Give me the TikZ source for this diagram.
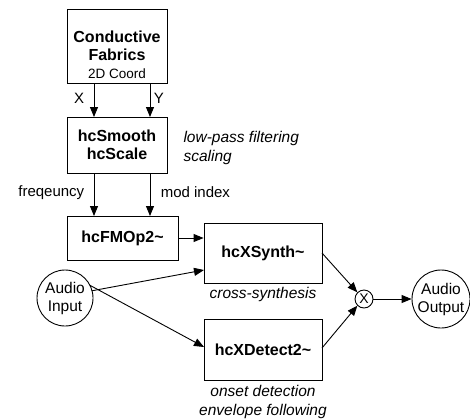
\documentclass[tikz,border=0pt]{standalone}
\usepackage{fontspec}
\setmainfont{Liberation Sans}
\usetikzlibrary{arrows.meta}
\begin{document}
\begin{tikzpicture}[x=1pt,y=-1pt,
  box/.style={draw,line width=0.9pt,inner sep=0pt,font=\fontsize{16}{18}\selectfont\bfseries,align=center},
  circ/.style={draw,circle,line width=0.9pt,inner sep=0pt,font=\fontsize{15.5}{18}\selectfont,align=center},
  lbl/.style={font=\fontsize{15}{18}\selectfont},
  ital/.style={font=\fontsize{15.5}{19}\selectfont\itshape,align=left},
  arr/.style={-{Triangle[length=10pt,width=8pt]},line width=0.9pt}]
\useasboundingbox (0,0) rectangle (470,418);
\node[box,minimum width=100pt,minimum height=74pt] (cf) at (117,46) {};
\node[font=\fontsize{16}{18}\selectfont\bfseries,align=center] (cft) at (117,46) {Conductive\\Fabrics};
\node[font=\fontsize{13.5}{16}\selectfont] (cfs) at (117,74) {2D Coord};
\node[box,minimum width=100pt,minimum height=56pt] (sm) at (117,145) {hcSmooth\\hcScale};
\node[ital,anchor=west] (smn) at (180,148) {low-pass filtering\\scaling};
\node[box,minimum width=111pt,minimum height=44pt] (fm) at (122.5,238) {hcFMOp2\textasciitilde};
\node[box,minimum width=118pt,minimum height=60pt] (xs) at (263,253) {hcXSynth\textasciitilde};
\node[ital,anchor=north] (xsn) at (263,284) {cross-synthesis};
\node[box,minimum width=118pt,minimum height=61pt] (xd) at (263,349.5) {hcXDetect2\textasciitilde};
\node[ital,anchor=north,align=center] (xdn) at (263,382) {onset detection\\envelope following};
\node[circ,minimum size=56pt] (ai) at (65,298) {Audio\\Input};
\node[circ,minimum size=18pt,font=\fontsize{14}{14}\selectfont] (mx) at (364,299) {X};
\node[circ,minimum size=58pt] (ao) at (441,299) {Audio\\Output};
% arrows
\draw[arr] (94,83) -- node[lbl,left=6pt,pos=0.45] {X} (94,117);
\draw[arr] (150,83) -- node[lbl,right=0pt,pos=0.45] {Y} (150,117);
\draw[arr] (94,173) -- node[lbl,left=6pt,pos=0.45] {freqeuncy} (94,216);
\draw[arr] (150,173) -- node[lbl,right=7pt,pos=0.45] {mod index} (150,216);
\draw[arr] (fm.east) -- (xs.west |- fm.east);
\draw[arr] (ai) ++(-15:28) -- (204,270);
\draw[arr] (ai) ++(-27:28) -- (204,347);
\draw[arr] (322,253) -- (mx.north west);
\draw[arr] (322,348) -- (mx.south west);
\draw[arr] (mx.east) -- (ao.west);
\end{tikzpicture}
\end{document}
